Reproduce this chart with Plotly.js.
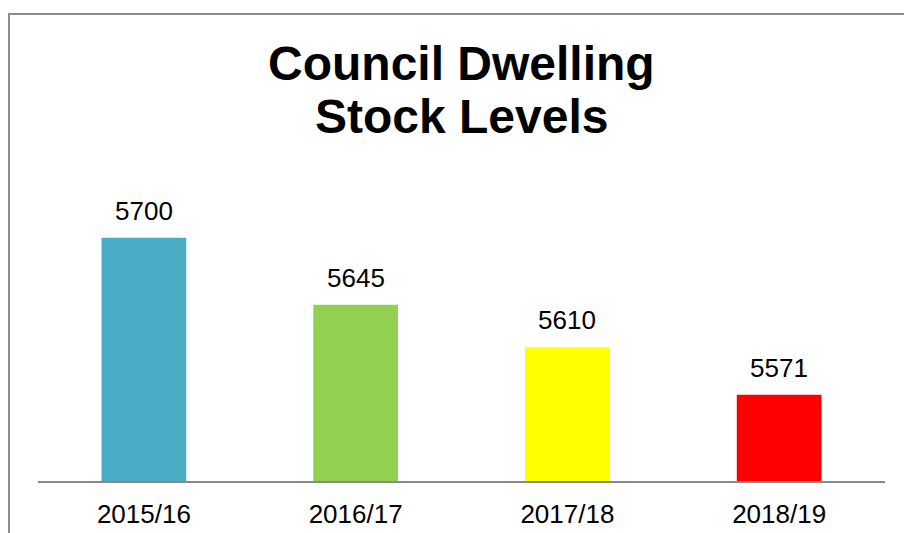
<!DOCTYPE html>
<html>
<head>
<meta charset="utf-8">
<script src="https://cdn.plot.ly/plotly-3.0.1.min.js"></script>
<style>
  html, body { margin: 0; padding: 0; background: #fff; overflow: hidden; }
  #frame { position: absolute; left: 8px; top: 13px; width: 1000px; height: 1000px; border: 2px solid #8c8c8c; box-sizing: border-box; pointer-events: none; z-index: 5; }
  #chart { position: absolute; left: 0; top: 0; width: 904px; height: 533px; }
</style>
</head>
<body>
<div id="chart"></div>
<div id="frame"></div>
<script>
const categories = ["2015/16", "2016/17", "2017/18", "2018/19"];
const values = [5700, 5645, 5610, 5571];
const barColors = ["#4BACC6", "#92D050", "#FFFF00", "#FF0000"];
const titleLines = ["Council Dwelling", "Stock Levels"];

const font = "Liberation Sans, Arial, sans-serif";

const trace = {
  type: "bar",
  x: categories,
  y: values,
  marker: { color: barColors },
  hoverinfo: "skip"
};

const annotations = values.map((v, i) => ({
  x: categories[i], y: v, xref: "x", yref: "y",
  text: String(v), showarrow: false,
  yanchor: "bottom", yshift: 10,
  font: { family: font, size: 26, color: "#000" }
}));

// plot area: y pixels 177..481.5 => paper coordinates
const plotTop = 177, plotBottom = 481.5, plotH = plotBottom - plotTop;
const toPaper = py => (plotBottom - py) / plotH;
titleLines.forEach((t, i) => {
  annotations.push({
    x: 0.5, xref: "paper", y: toPaper(i === 0 ? 63 : 116), yref: "paper",
    text: "<b>" + t + "</b>", showarrow: false,
    xanchor: "center", yanchor: "middle",
    font: { family: font, size: 48, color: "#000" }
  });
});

const layout = {
  width: 904, height: 533,
  margin: { l: 38, r: 19, t: plotTop, b: 533 - plotBottom },
  paper_bgcolor: "#fff", plot_bgcolor: "#fff",
  showlegend: false,
  bargap: 0.6,
  xaxis: {
    type: "category",
    showline: true, linecolor: "#898989", linewidth: 2,
    ticks: "", showgrid: false, zeroline: false,
    tickfont: { family: font, size: 26, color: "#000" },
    ticklabelstandoff: 9
  },
  yaxis: {
    range: [5500, 5750],
    visible: false, showgrid: false, zeroline: false
  },
  annotations: annotations
};

Plotly.newPlot("chart", [trace], layout, { staticPlot: true, displayModeBar: false });
</script>
</body>
</html>
